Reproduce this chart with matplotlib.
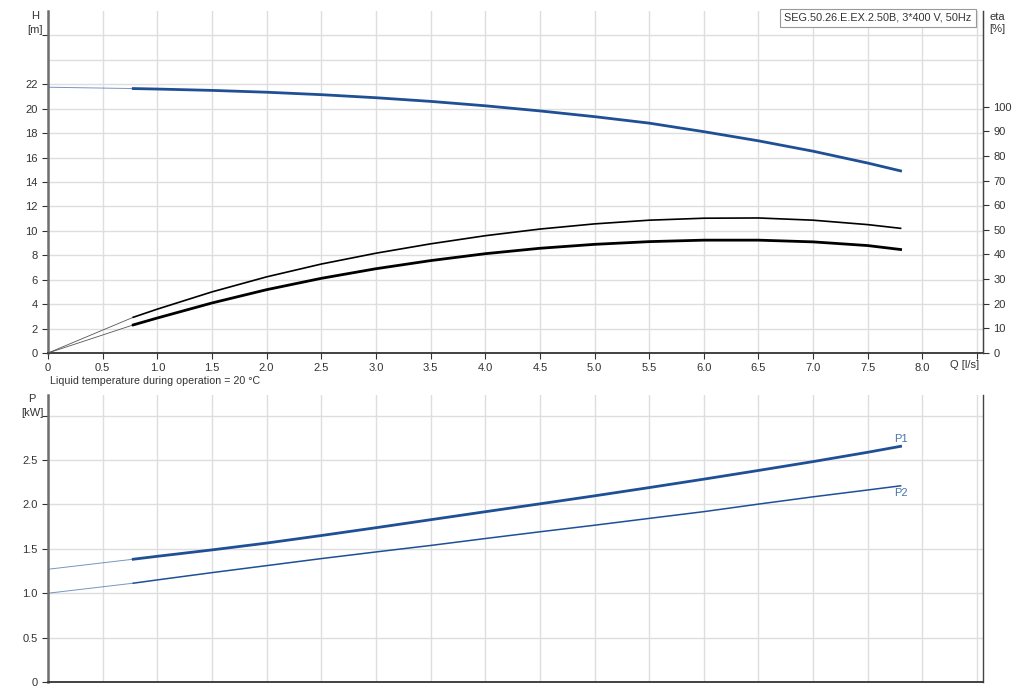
import numpy as np
import matplotlib
matplotlib.use('Agg')
import matplotlib.pyplot as plt

plt.rcParams['font.family'] = ['Liberation Sans', 'DejaVu Sans']

# flow values (l/s) for the operating range
q = [0.78, 1.0, 1.5, 2.0, 2.5, 3.0, 3.5, 4.0, 4.5, 5.0, 5.5, 6.0, 6.5, 7.0, 7.5, 7.8]
head = [21.65, 21.61, 21.50, 21.35, 21.15, 20.90, 20.60, 20.24, 19.82, 19.35,
        18.82, 18.12, 17.37, 16.52, 15.55, 14.91]
eta_hyd = [14.5, 17.8, 24.8, 30.9, 36.1, 40.5, 44.3, 47.6, 50.3, 52.4,
           53.9, 54.7, 54.8, 53.9, 52.1, 50.6]
eta_tot = [11.4, 14.2, 20.3, 25.7, 30.3, 34.2, 37.5, 40.3, 42.5, 44.1,
           45.2, 45.8, 45.8, 45.1, 43.6, 42.0]
p1 = [1.383, 1.416, 1.488, 1.565, 1.65, 1.738, 1.828, 1.918, 2.007, 2.097,
      2.19, 2.285, 2.383, 2.483, 2.588, 2.655]
p2 = [1.113, 1.15, 1.232, 1.311, 1.39, 1.465, 1.538, 1.616, 1.692, 1.766,
      1.843, 1.919, 2.004, 2.086, 2.163, 2.21]

# values at zero flow (thin extension lines)
head_0 = 21.76
eta_0 = 0.0
p1_0 = 1.27
p2_0 = 1.0

x_ticks = np.arange(0, 8.01, 0.5)
x_labels = ['0'] + ['%.1f' % v for v in x_ticks[1:]]

blue = '#1f4f95'
grid_c = '#dedede'
txt_c = '#333333'

W, H = 1016, 698
fig = plt.figure(figsize=(W / 100, H / 100), dpi=100)


def px_axes(x0, y0, x1, y1):
    return fig.add_axes([x0 / W, 1 - y1 / H, (x1 - x0) / W, (y1 - y0) / H])


def style(ax):
    ax.set_xlim(0, 8.554)
    ax.set_xticks(np.arange(0, 8.51, 0.5))
    ax.grid(True, which='both', color=grid_c, linewidth=1.0)
    ax.set_axisbelow(True)
    ax.spines['top'].set_visible(False)
    ax.spines['left'].set_color('#6e6e6e')
    ax.spines['left'].set_linewidth(1.8)
    ax.spines['right'].set_color('#444444')
    ax.spines['right'].set_linewidth(1.0)
    ax.spines['bottom'].set_color('#333333')
    ax.spines['bottom'].set_linewidth(1.3)
    ax.tick_params(labelsize=8, colors=txt_c, length=4, width=0.8)
    ax.tick_params(which='minor', length=0)


# --- top: head and efficiency ---
ax = px_axes(48, 11, 983, 353)
style(ax)
ax.set_ylim(0, 28.0)
ax.set_yticks(list(range(0, 23, 2)) + [26])
ax.set_yticks([24], minor=True)
ax.set_yticklabels([str(v) for v in range(0, 23, 2)] + [''])
ax.set_xticklabels(x_labels + [''])
ax.plot([0, q[0]], [head_0, head[0]], color=blue, lw=0.7, alpha=0.6)
ax.plot(q, head, color=blue, lw=2.0, solid_joinstyle='round')

ax2 = ax.twinx()
ax2.set_ylim(0, 138.8)
ax2.set_yticks(np.arange(0, 101, 10))
ax2.tick_params(labelsize=8, colors=txt_c, length=4, width=0.8)
for s in ['top', 'left', 'bottom']:
    ax2.spines[s].set_visible(False)
ax2.spines['right'].set_color('#444444')
ax2.plot([0, q[0]], [eta_0, eta_hyd[0]], color='#555555', lw=0.6)
ax2.plot([0, q[0]], [eta_0, eta_tot[0]], color='#555555', lw=0.6)
ax2.plot(q, eta_hyd, color='black', lw=1.2, solid_joinstyle='round')
ax2.plot(q, eta_tot, color='black', lw=2.0, solid_joinstyle='round')

fig.text(35 / W, 1 - 23 / H, 'H\n[m]', ha='center', va='center', fontsize=8,
         color=txt_c, linespacing=1.45)
fig.text(989 / W, 1 - 23 / H, 'eta\n[%]', ha='left', va='center', fontsize=8,
         color=txt_c, linespacing=1.35)
fig.text(965 / W, 1 - 365 / H, 'Q [l/s]', ha='center', va='center', fontsize=8,
         color=txt_c)
fig.text(784 / W, 1 - 18 / H, 'SEG.50.26.E.EX.2.50B, 3*400 V, 50Hz', ha='left',
         va='center', fontsize=7.8, color=txt_c,
         bbox=dict(boxstyle='square,pad=0.4', fc='white', ec='#999999', lw=0.8))
fig.text(50 / W, 1 - 381 / H, 'Liquid temperature during operation = 20 \u00b0C',
         ha='left', va='center', fontsize=7.7, color=txt_c)

# --- bottom: power ---
bx = px_axes(48, 395, 983, 682)
style(bx)
bx.set_ylim(0, 3.233)
bx.set_yticks([0, 0.5, 1.0, 1.5, 2.0, 2.5, 3.0])
bx.set_yticklabels(['0', '0.5', '1.0', '1.5', '2.0', '2.5', ''])
bx.tick_params(axis='x', length=0, labelbottom=False)
bx.plot([0, q[0]], [p1_0, p1[0]], color=blue, lw=0.7, alpha=0.6)
bx.plot([0, q[0]], [p2_0, p2[0]], color=blue, lw=0.7, alpha=0.6)
bx.plot(q, p1, color=blue, lw=2.0, solid_joinstyle='round')
bx.plot(q, p2, color=blue, lw=1.1, solid_joinstyle='round')
bx.text(q[-1], p1[-1] + 0.03, 'P1', ha='center', va='bottom', fontsize=8,
        color='#4a72b0')
bx.text(q[-1], p2[-1] - 0.03, 'P2', ha='center', va='top', fontsize=8,
        color='#4a72b0')

fig.text(32 / W, 1 - 406 / H, 'P\n[kW]', ha='center', va='center', fontsize=8,
         color=txt_c, linespacing=1.45)

fig.savefig('out.png', dpi=100)
